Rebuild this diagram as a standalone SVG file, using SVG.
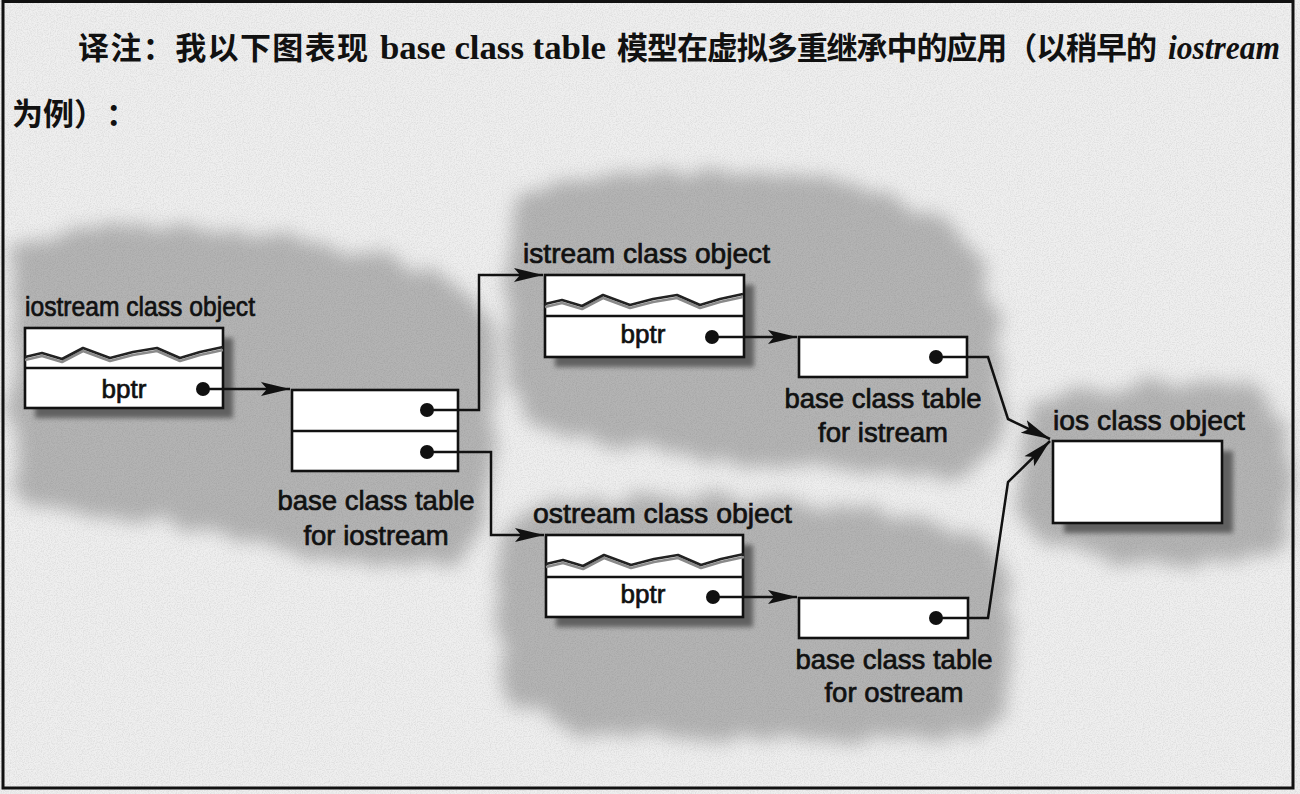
<svg xmlns="http://www.w3.org/2000/svg" width="1300" height="794" viewBox="0 0 1300 794">
<defs>
<style>
.box{fill:#fff;stroke:#111;stroke-width:2.6}
.div{stroke:#111;stroke-width:2.6}
.wire{fill:none;stroke:#111;stroke-width:2.5;marker-end:url(#arr)}
.dot{fill:#111}
.wave{fill:none;stroke:#222;stroke-width:2.6;stroke-linejoin:round}
.wave2{fill:none;stroke:#8a8a8a;stroke-width:2.6;stroke-linejoin:round}
.lbl{font-family:"Liberation Sans",Arial,sans-serif;font-size:27.5px;fill:#111;stroke:#111;stroke-width:0.7}
.bptr{font-size:26px;text-anchor:middle}
.mid{text-anchor:middle}
.shadow{fill:#606060;filter:url(#sblur)}
.blobs{fill:#b4b4b4;filter:url(#blob)}
.title{font-family:"Noto Sans CJK SC",sans-serif;font-size:31px;font-weight:700;fill:#111}
.lat{font-family:"Liberation Serif",serif;font-weight:700;fill:#111}
</style>
<filter id="sblur" x="-10%" y="-10%" width="130%" height="140%"><feGaussianBlur stdDeviation="2.5"/></filter>
<filter id="blob" x="-10%" y="-10%" width="120%" height="120%">
<feTurbulence type="fractalNoise" baseFrequency="0.03" numOctaves="3" seed="7" result="t"/>
<feDisplacementMap in="SourceGraphic" in2="t" scale="26" xChannelSelector="R" yChannelSelector="G" result="d"/>
<feGaussianBlur in="d" stdDeviation="9"/>
</filter>
<filter id="grain" x="0" y="0" width="100%" height="100%">
<feTurbulence type="fractalNoise" baseFrequency="0.85" numOctaves="2" seed="2"/>
<feColorMatrix type="matrix" values="0 0 0 0 0  0 0 0 0 0  0 0 0 0 0  0.8 0 0 0 -0.3"/>
</filter>
<marker id="arr" markerUnits="userSpaceOnUse" markerWidth="30" markerHeight="16" viewBox="0 -8 30 16" refX="29" refY="0" orient="auto"><path d="M0,-7 L29,0 L0,7 L6,0 Z" fill="#111"/></marker>
<path id="wave" d="M0,29 L17,25 L37,31 L58,20 L85,30 L108,24 L132,20 L155,30 L175,24 L198,19"/>
</defs>

<g id="background">
<rect x="0" y="0" width="1300" height="794" fill="#efefef"/>
<g class="blobs">
<path d="M14,250 C40,226 150,222 260,234 C360,248 440,266 478,300 C500,330 498,420 492,470 C488,520 480,555 440,562 C380,568 300,560 260,545 C200,525 120,515 60,515 C25,512 12,490 12,450 Z"/>
<path d="M520,200 C540,175 640,168 740,172 C840,176 930,196 975,255 C1000,300 1005,380 1000,440 C995,470 960,478 900,472 C820,465 740,470 680,455 C620,440 560,445 530,420 C505,390 505,300 510,250 Z"/>
<path d="M505,525 C520,500 620,495 720,498 C820,500 930,515 990,540 C1015,560 1015,650 1008,700 C1000,735 950,742 880,740 C780,738 640,740 570,730 C520,720 500,690 498,640 C496,590 498,550 505,525 Z"/>
<path d="M1025,420 C1030,395 1090,385 1170,385 C1240,385 1285,395 1290,430 L1290,540 C1280,565 1200,568 1130,562 C1060,556 1022,540 1020,500 Z"/>
</g>
<rect x="0" y="0" width="1300" height="794" filter="url(#grain)" opacity="0.2"/>
<rect x="3" y="1.5" width="1290" height="786.5" fill="none" stroke="#111" stroke-width="3"/>
</g>

<g id="title">
<text class="title" y="59"><tspan x="78" textLength="290" lengthAdjust="spacing">译注：我以下图表现</tspan><tspan class="lat" x="380" font-size="33" textLength="226" lengthAdjust="spacingAndGlyphs">base class table</tspan><tspan x="617" textLength="540" lengthAdjust="spacing">模型在虚拟多重继承中的应用（以稍早的</tspan><tspan class="lat" x="1168" font-size="33" font-style="italic" textLength="112" lengthAdjust="spacingAndGlyphs">iostream</tspan></text>
<text class="title" y="125"><tspan x="12">为例）</tspan><tspan x="106">：</tspan></text>
</g>

<g id="iostream-object">
<rect class="shadow" x="35" y="338" width="198" height="80"/>
<rect class="box" x="25" y="328" width="198" height="80"/>
<use href="#wave" class="wave2" transform="translate(25,331)"/>
<use href="#wave" class="wave" transform="translate(25,328)"/>
<line class="div" x1="25" y1="368" x2="223" y2="368"/>
<text class="lbl" x="25" y="316" font-size="25" textLength="230" lengthAdjust="spacingAndGlyphs">iostream class object</text>
<text class="lbl bptr" x="124" y="398">bptr</text>
<circle class="dot" cx="203" cy="389" r="7"/>
</g>

<g id="iostream-table">
<rect class="box" x="292" y="390" width="166" height="81"/>
<line class="div" x1="292" y1="431" x2="458" y2="431"/>
<circle class="dot" cx="427" cy="410" r="7"/>
<circle class="dot" cx="427" cy="452" r="7"/>
<text class="lbl mid" x="376" y="510">base class table</text>
<text class="lbl mid" x="376" y="545">for iostream</text>
</g>

<g id="istream-object">
<rect class="shadow" x="555" y="285" width="199" height="82"/>
<rect class="box" x="545" y="275" width="199" height="82"/>
<use href="#wave" class="wave2" transform="translate(545,278)"/>
<use href="#wave" class="wave" transform="translate(545,275)"/>
<line class="div" x1="545" y1="316" x2="744" y2="316"/>
<text class="lbl" x="523" y="263" textLength="247" lengthAdjust="spacingAndGlyphs">istream class object</text>
<text class="lbl bptr" x="643" y="343">bptr</text>
<circle class="dot" cx="712" cy="337" r="7"/>
</g>

<g id="istream-table">
<rect class="box" x="799" y="337" width="168" height="40"/>
<circle class="dot" cx="936" cy="357" r="7"/>
<text class="lbl mid" x="883" y="408">base class table</text>
<text class="lbl mid" x="883" y="442">for istream</text>
</g>

<g id="ostream-object">
<rect class="shadow" x="556" y="545" width="197" height="82"/>
<rect class="box" x="546" y="535" width="197" height="82"/>
<use href="#wave" class="wave2" transform="translate(546,538)"/>
<use href="#wave" class="wave" transform="translate(546,535)"/>
<line class="div" x1="546" y1="577" x2="743" y2="577"/>
<text class="lbl" x="533" y="523" textLength="259" lengthAdjust="spacingAndGlyphs">ostream class object</text>
<text class="lbl bptr" x="643" y="603">bptr</text>
<circle class="dot" cx="713" cy="597" r="7"/>
</g>

<g id="ostream-table">
<rect class="box" x="799" y="598" width="169" height="40"/>
<circle class="dot" cx="936" cy="618" r="7"/>
<text class="lbl mid" x="894" y="669">base class table</text>
<text class="lbl mid" x="894" y="702">for ostream</text>
</g>

<g id="ios-object">
<rect class="shadow" x="1064" y="451" width="169" height="82"/>
<rect class="box" x="1053" y="441" width="169" height="82"/>
<text class="lbl" x="1053" y="430" textLength="192" lengthAdjust="spacingAndGlyphs">ios class object</text>
</g>

<g id="connectors">
<path class="wire" d="M203,389 L290,389"/>
<path class="wire" d="M427,410 L479,410 L479,275 L543,275"/>
<path class="wire" d="M427,452 L491,452 L491,535 L544,535"/>
<path class="wire" d="M712,337 L797,337"/>
<path class="wire" d="M713,597 L797,597"/>
<path class="wire" d="M936,357 L988,357 L1008,419 L1050,439"/>
<path class="wire" d="M936,618 L988,618 L1008,482 L1050,441"/>
</g>
</svg>
